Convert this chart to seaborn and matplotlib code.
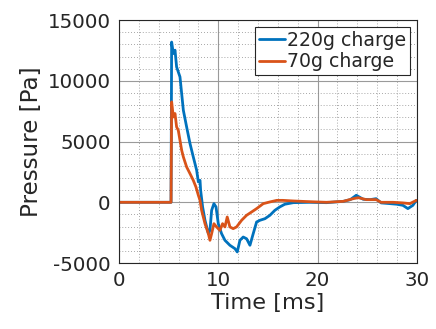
import numpy as np
import pandas as pd
import matplotlib
matplotlib.use("Agg")
import matplotlib.pyplot as plt
import seaborn as sns
from matplotlib.ticker import MultipleLocator

# ---- data ----
t_220 = [0.0, 5.24, 5.30, 5.47, 5.64, 5.80, 5.97, 6.14, 6.31, 6.48, 6.81, 7.15, 7.48, 7.82,
         7.99, 8.16, 8.22, 8.42, 8.66, 9.00, 9.16, 9.33, 9.56, 9.77, 10.0, 10.33, 10.67,
         11.17, 11.68, 11.91, 12.18, 12.51, 12.85, 13.19, 13.52, 13.86, 14.2, 14.7, 15.2,
         15.7, 16.2, 16.7, 17.55, 19.2, 20.9, 22.6, 23.3, 23.9, 24.6, 25.3, 25.9, 26.4,
         27.3, 28.0, 28.6, 29.1, 29.6, 29.95]
p_220 = [0, 0, 13200, 12250, 12530, 11150, 10740, 10330, 8960, 7580, 6210, 4840, 3740, 2640,
         1680, 1810, 990, -380, -1480, -2580, -2310, -660, -110, -380, -1760, -2580, -3130,
         -3540, -3820, -4090, -3130, -2860, -3000, -3540, -2580, -1620, -1480, -1350, -1070,
         -660, -380, -160, -30, 0, -30, 80, 220, 580, 250, 220, 300, -50,
         -110, -160, -250, -520, -250, 160]

t_70 = [0.0, 5.24, 5.30, 5.47, 5.64, 5.80, 5.97, 6.14, 6.31, 6.48, 6.81, 7.15, 7.48, 7.75,
        7.99, 8.16, 8.32, 8.66, 9.00, 9.16, 9.33, 9.56, 9.83, 10.16, 10.43, 10.67, 10.9,
        11.17, 11.5, 11.84, 12.35, 12.85, 13.35, 13.86, 14.53, 15.2, 15.9, 16.5, 17.55,
        19.2, 20.9, 22.6, 23.6, 24.1, 24.9, 25.9, 26.4, 27.6, 28.6, 29.3, 29.95]
p_70 = [0, 0, 8270, 7030, 7310, 6210, 5930, 5110, 4290, 3740, 2910, 2360, 1810, 1260,
        580, 160, -660, -1760, -2580, -3130, -2580, -1760, -2030, -2310, -1760, -2030, -1210,
        -2030, -2170, -2030, -1480, -1070, -800, -520, -110, 30, 160, 160, 110,
        50, 0, 80, 300, 380, 220, 220, 0, 0, -50, -110, 160]

series_names = ["220g charge", "70g charge"]
colors = ["#0072BD", "#D95319"]
x_ticks = [0, 10, 20, 30]
y_ticks = [-5000, 0, 5000, 10000, 15000]

df = pd.concat([
    pd.DataFrame({"Time": t_220, "Pressure": p_220, "Series": series_names[0]}),
    pd.DataFrame({"Time": t_70, "Pressure": p_70, "Series": series_names[1]}),
], ignore_index=True)

sns.set_theme(style="white")
plt.rcParams["font.family"] = ["DejaVu Sans"]
plt.rcParams["axes.unicode_minus"] = False

fig = plt.figure(figsize=(4.36, 3.29), dpi=100)
ax = fig.add_axes([0.273, 0.2006, 0.683, 0.738])

sns.lineplot(data=df, x="Time", y="Pressure", hue="Series", hue_order=series_names,
             palette=colors, linewidth=2.0, sort=False, estimator=None, ax=ax)

ax.set_xlim(0, 30)
ax.set_ylim(-5000, 15000)
ax.set_xticks(x_ticks)
ax.set_yticks(y_ticks)
ax.xaxis.set_minor_locator(MultipleLocator(2))
ax.yaxis.set_minor_locator(MultipleLocator(1000))
ax.grid(which="major", color="#9a9a9a", linewidth=0.8, linestyle="-")
ax.grid(which="minor", color="#8a8a8a", linewidth=0.6, linestyle=(0, (1, 2.5)))
ax.set_axisbelow(True)
ax.tick_params(which="major", direction="in", length=3, width=0.6, colors="#262626",
               labelsize=14.3, pad=6)
ax.tick_params(which="minor", length=0)
for s in ax.spines.values():
    s.set_color("#262626")
    s.set_linewidth(0.8)

ax.set_xlabel("Time [ms]", fontsize=16.2, color="#262626", labelpad=2)
ax.set_ylabel("Pressure [Pa]", fontsize=16.6, color="#262626", labelpad=3)

leg = ax.legend(loc="upper right", fontsize=13.6, frameon=True, fancybox=False,
                handlelength=1.4, handletextpad=0.1, borderpad=0.2, labelspacing=0.15,
                borderaxespad=0.35)
leg.get_frame().set_edgecolor("#262626")
leg.get_frame().set_linewidth(0.8)
leg.get_frame().set_alpha(1)
for h in leg.get_lines():
    h.set_linewidth(2.0)

fig.savefig("out.png", dpi=100)
